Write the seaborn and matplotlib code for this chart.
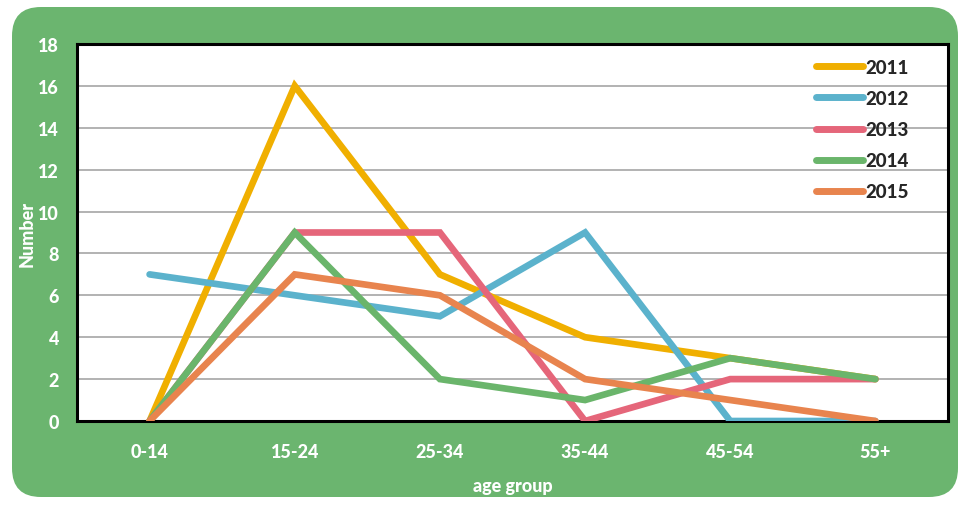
import pandas as pd
import matplotlib
matplotlib.use('Agg')
import matplotlib.pyplot as plt
from matplotlib.patches import FancyBboxPatch
import seaborn as sns

# data
age_groups = ['0-14', '15-24', '25-34', '35-44', '45-54', '55+']
years = ['2011', '2012', '2013', '2014', '2015']
v2011 = [0, 16, 7, 4, 3, 2]
v2012 = [7, 6, 5, 9, 0, 0]
v2013 = [0, 9, 9, 0, 2, 2]
v2014 = [0, 9, 2, 1, 3, 2]
v2015 = [0, 7, 6, 2, 1, 0]

colors = {'2011': '#F0AF00', '2012': '#5BB2CC', '2013': '#E5667A',
          '2014': '#6AB56B', '2015': '#E8844E'}

rows = []
for yr, vals in zip(years, [v2011, v2012, v2013, v2014, v2015]):
    for g, v in zip(age_groups, vals):
        rows.append({'age group': g, 'Number': v, 'year': yr})
df = pd.DataFrame(rows)

sns.set_style('white')
plt.rcParams['font.family'] = ['Lato', 'DejaVu Sans']

fig = plt.figure(figsize=(9.63, 5.06), dpi=100)
fig.patch.set_facecolor('white')
bg = FancyBboxPatch((12 / 963, 8 / 506), 946 / 963, 490 / 506,
                    boxstyle='round,pad=0,rounding_size=0.03',
                    transform=fig.transFigure, facecolor='#6BB56F',
                    edgecolor='none', zorder=-10, mutation_aspect=963 / 506)
fig.patches.append(bg)

ax = fig.add_axes([77 / 963, 1 - 422 / 506, 871 / 963, 377 / 506])
ax.set_facecolor('white')
sns.lineplot(data=df, x='age group', y='Number', hue='year', palette=colors,
             linewidth=4.8, sort=False, ax=ax, zorder=3)
for ln in ax.get_lines():
    ln.set_solid_capstyle('round')
    ln.set_solid_joinstyle('miter')

ax.set_ylim(0, 18)
ax.set_xlim(-0.5, 5.5)
ax.set_yticks(range(0, 19, 2))
ax.grid(axis='y', color='#A6A6A6', linewidth=1.2, zorder=0)
for s in ax.spines.values():
    s.set_color('black')
    s.set_linewidth(2.2)

ax.tick_params(axis='both', length=0, labelsize=13, labelcolor='white')
ax.tick_params(axis='x', pad=16)
ax.tick_params(axis='y', pad=13)
for lab in ax.get_xticklabels() + ax.get_yticklabels():
    lab.set_fontweight('black')

ax.set_xlabel('age group', color='white', fontsize=13, fontweight='black', labelpad=12)
ax.set_ylabel('Number', color='white', fontsize=13, fontweight='black', labelpad=2)

leg = ax.legend(loc='upper right', bbox_to_anchor=(0.975, 1.005), frameon=False,
                handlelength=2.5, handletextpad=0.15, labelspacing=0.75,
                prop={'weight': 'black', 'size': 13.5})
for h in leg.get_lines():
    h.set_linewidth(5)
    h.set_solid_capstyle('round')

fig.savefig('out.png', dpi=100)
